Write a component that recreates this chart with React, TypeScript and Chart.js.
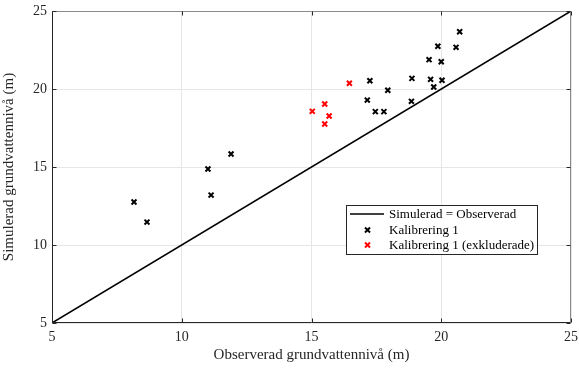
import React, { useEffect, useRef } from "react";
import { Chart, registerables } from "chart.js";

Chart.register(...registerables);

// Observed vs simulated groundwater levels (m)
const calObserved = [8.16, 8.66, 11.01, 11.13, 11.9, 17.25, 17.94, 17.15, 17.46, 17.79, 18.87, 18.85, 19.53, 19.59, 19.71, 19.87, 20.0, 20.03, 20.57, 20.71];
const calSimulated = [12.76, 11.47, 14.87, 13.2, 15.83, 20.53, 19.92, 19.29, 18.55, 18.55, 20.68, 19.21, 21.88, 20.62, 20.13, 22.74, 21.75, 20.56, 22.67, 23.67];
const exclObserved = [16.46, 15.51, 15.03, 15.68, 15.51];
const exclSimulated = [20.37, 19.04, 18.57, 18.27, 17.76];
const oneToOne = [5, 25];
const axisTicks = [5, 10, 15, 20, 25];
const legendLabels = ["Simulerad = Observerad", "Kalibrering 1", "Kalibrering 1 (exkluderade)"];

const FONT = "'Liberation Serif', 'Times New Roman', serif";
const INK = "#262626";

const boxPlugin = {
  id: "boxAndLegend",
  afterDatasetsDraw(chart: any) {
    const { ctx, chartArea: a } = chart;
    ctx.save();
    const L = Math.round(a.left) + 0.5, R = Math.round(a.right) - 0.5;
    const T = Math.round(a.top) + 0.5, B = Math.round(a.bottom) - 0.5;
    ctx.lineWidth = 1;
    // top and right edges
    ctx.strokeStyle = "#8a8a8a";
    ctx.beginPath();
    ctx.moveTo(L, T); ctx.lineTo(R, T); ctx.lineTo(R, B);
    ctx.stroke();
    // left and bottom axes
    ctx.strokeStyle = INK;
    ctx.beginPath();
    ctx.moveTo(L, T); ctx.lineTo(L, B); ctx.lineTo(R, B);
    ctx.stroke();
    // inward tick marks
    const xs = chart.scales.x, ys = chart.scales.y;
    ctx.beginPath();
    axisTicks.forEach((t) => {
      const px = Math.round(xs.getPixelForValue(t)) + 0.5;
      ctx.moveTo(px, B); ctx.lineTo(px, B - 4);
      ctx.moveTo(px, T); ctx.lineTo(px, T + 4);
      const py = Math.round(ys.getPixelForValue(t)) + 0.5;
      ctx.moveTo(L, py); ctx.lineTo(L + 4, py);
      ctx.moveTo(R, py); ctx.lineTo(R - 4, py);
    });
    ctx.stroke();

    // legend box
    const lx = 346, ly = 205, lw = 191, lh = 49;
    ctx.fillStyle = "#ffffff";
    ctx.fillRect(lx, ly, lw, lh);
    ctx.strokeStyle = "#262626";
    ctx.strokeRect(lx + 0.5, ly + 0.5, lw, lh);
    const rows = [214, 230, 245];
    ctx.font = `13px ${FONT}`;
    ctx.textBaseline = "middle";
    ctx.textAlign = "left";
    // line sample
    ctx.strokeStyle = "#000000";
    ctx.lineWidth = 1.5;
    ctx.beginPath();
    ctx.moveTo(350, rows[0]); ctx.lineTo(384, rows[0]);
    ctx.stroke();
    const cross = (cx: number, cy: number, color: string) => {
      ctx.strokeStyle = color;
      ctx.lineWidth = 2;
      ctx.beginPath();
      ctx.moveTo(cx - 2.5, cy - 2.5); ctx.lineTo(cx + 2.5, cy + 2.5);
      ctx.moveTo(cx - 2.5, cy + 2.5); ctx.lineTo(cx + 2.5, cy - 2.5);
      ctx.stroke();
    };
    cross(367.5, rows[1], "#000000");
    cross(367.5, rows[2], "#ff0000");
    ctx.fillStyle = "#000000";
    legendLabels.forEach((t, i) => ctx.fillText(t, 389, rows[i] + 1));
    ctx.restore();
  },
};

export default function App() {
  const ref = useRef<HTMLCanvasElement | null>(null);

  useEffect(() => {
    if (!ref.current) return;
    const chart = new Chart(ref.current, {
      type: "scatter",
      data: {
        datasets: [
          {
            type: "line",
            label: legendLabels[0],
            data: oneToOne.map((v) => ({ x: v, y: v })),
            borderColor: "#000000",
            borderWidth: 1.5,
            pointRadius: 0,
            order: 3,
          },
          {
            label: legendLabels[1],
            data: calObserved.map((x, i) => ({ x, y: calSimulated[i] })),
            pointStyle: "crossRot",
            pointRadius: 3.5,
            borderColor: "#000000",
            borderWidth: 2,
            order: 1,
          },
          {
            label: legendLabels[2],
            data: exclObserved.map((x, i) => ({ x, y: exclSimulated[i] })),
            pointStyle: "crossRot",
            pointRadius: 3.5,
            borderColor: "#ff0000",
            borderWidth: 2,
            order: 2,
          },
        ],
      },
      options: {
        animation: false,
        responsive: false,
        maintainAspectRatio: false,
        layout: { padding: { top: 11, right: 8, left: 0, bottom: 0 } },
        plugins: { legend: { display: false }, tooltip: { enabled: false } },
        scales: {
          x: {
            type: "linear",
            min: 5,
            max: 25,
            afterBuildTicks: (s: any) => { s.ticks = axisTicks.map((v) => ({ value: v })); },
            afterFit: (s: any) => { s.height = 45; s.paddingLeft = 0; s.paddingRight = 0; },
            border: { display: false },
            grid: { color: "#e6e6e6", drawTicks: false },
            ticks: { color: INK, font: { family: FONT, size: 14 }, padding: 6, maxRotation: 0 },
            title: { display: true, text: "Observerad grundvattennivå (m)", color: INK, font: { family: FONT, size: 15 }, padding: { top: 2 } },
          },
          y: {
            type: "linear",
            min: 5,
            max: 25,
            afterBuildTicks: (s: any) => { s.ticks = axisTicks.map((v) => ({ value: v })); },
            afterFit: (s: any) => { s.width = 52; s.paddingTop = 0; s.paddingBottom = 0; },
            border: { display: false },
            grid: { color: "#e6e6e6", drawTicks: false },
            ticks: { color: INK, font: { family: FONT, size: 14 }, padding: 5 },
            title: { display: true, text: "Simulerad grundvattennivå (m)", color: INK, font: { family: FONT, size: 15 }, padding: { top: 0, bottom: 0 } },
          },
        },
      },
      plugins: [boxPlugin],
    });
    return () => chart.destroy();
  }, []);

  return (
    <div style={{ position: "fixed", left: 0, top: 0, width: 579, height: 368, background: "#fff" }}>
      <canvas ref={ref} width={579} height={368} style={{ display: "block" }} />
    </div>
  );
}
